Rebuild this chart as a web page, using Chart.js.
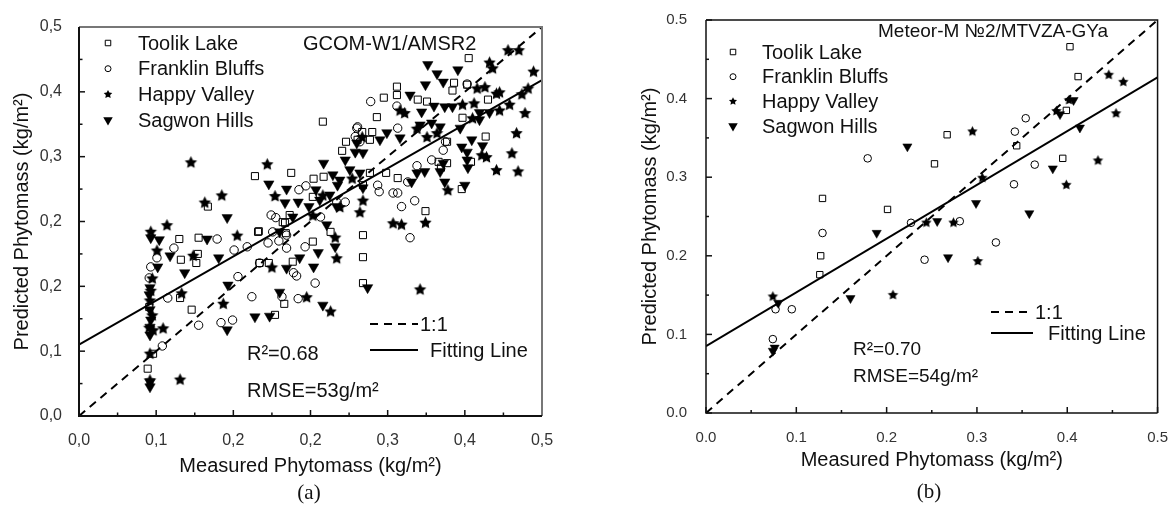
<!DOCTYPE html>
<html>
<head>
<meta charset="utf-8">
<title>Phytomass scatter</title>
<script src="https://cdn.jsdelivr.net/npm/chart.js@4.4.1/dist/chart.umd.min.js"></script>
<style>
  html, body { margin: 0; padding: 0; background: #fff; }
  #wrap { position: relative; width: 1176px; height: 508px; }
  canvas { position: absolute; top: 0; }
  #chartA { left: 0; }
  #chartB { left: 588px; }
</style>
</head>
<body>
<div id="wrap">
  <canvas id="chartA" width="588" height="508"></canvas>
  <canvas id="chartB" width="588" height="508"></canvas>
</div>
<script>
/* global Chart */
const FONT = '"Liberation Sans", Arial, "DejaVu Sans", sans-serif';
const SERIF = '"Liberation Serif", "Times New Roman", serif';

const seriesNames = ['Toolik Lake', 'Franklin Bluffs', 'Happy Valley', 'Sagwon Hills'];
const markerKinds = ['square', 'circle', 'star', 'tri'];

// (a) GCOM-W1/AMSR2 - axis spans 0..0.6, the original labels repeat "0,2"
const tickLabelsA = ['0,0', '0,1', '0,2', '0,2', '0,3', '0,4', '0,5'];
const toolikA = [
  [0.167,0.323],[0.130,0.273],[0.155,0.275],[0.154,0.250],[0.132,0.241],[0.152,0.236],[0.131,0.182],[0.146,0.164],[0.089,0.073],[0.228,0.370],
  [0.275,0.375],[0.233,0.285],[0.264,0.299],[0.316,0.454],[0.346,0.423],[0.361,0.426],[0.341,0.409],[0.304,0.366],[0.317,0.369],[0.303,0.338],
  [0.368,0.356],[0.273,0.310],[0.267,0.298],[0.326,0.284],[0.232,0.284],[0.268,0.282],[0.303,0.269],[0.277,0.238],[0.246,0.236],[0.234,0.236],
  [0.266,0.173],[0.368,0.279],[0.368,0.245],[0.368,0.205],[0.254,0.156],[0.505,0.552],[0.486,0.514],[0.484,0.502],[0.503,0.511],[0.412,0.508],
  [0.395,0.491],[0.386,0.461],[0.412,0.495],[0.439,0.488],[0.451,0.485],[0.367,0.438],[0.380,0.438],[0.377,0.426],[0.527,0.431],[0.508,0.392],
  [0.477,0.423],[0.466,0.392],[0.477,0.390],[0.469,0.383],[0.413,0.367],[0.496,0.350],[0.449,0.316],[0.377,0.375],[0.398,0.375],[0.530,0.488],
  [0.096,0.096],[0.091,0.168],[0.497,0.460]
];
const franklinA = [
  [0.179,0.273],[0.123,0.259],[0.101,0.244],[0.093,0.230],[0.201,0.256],[0.091,0.213],[0.115,0.182],[0.206,0.215],[0.155,0.140],[0.184,0.144],
  [0.199,0.148],[0.108,0.108],[0.249,0.310],[0.255,0.306],[0.218,0.261],[0.361,0.446],[0.364,0.423],[0.285,0.349],[0.294,0.355],[0.334,0.330],
  [0.313,0.307],[0.251,0.284],[0.269,0.279],[0.245,0.267],[0.259,0.270],[0.269,0.259],[0.293,0.261],[0.306,0.205],[0.278,0.221],[0.282,0.216],
  [0.224,0.184],[0.263,0.184],[0.284,0.181],[0.378,0.485],[0.412,0.478],[0.413,0.444],[0.360,0.444],[0.358,0.431],[0.475,0.423],[0.472,0.410],
  [0.457,0.395],[0.438,0.386],[0.426,0.361],[0.387,0.356],[0.389,0.346],[0.407,0.344],[0.413,0.344],[0.435,0.332],[0.418,0.323],[0.429,0.275],
  [0.345,0.330],[0.503,0.512],[0.234,0.236]
];
const happyA = [
  [0.185,0.341],[0.163,0.330],[0.114,0.295],[0.093,0.285],[0.205,0.279],[0.101,0.256],[0.095,0.213],[0.133,0.190],[0.095,0.156],[0.109,0.136],
  [0.187,0.174],[0.092,0.097],[0.131,0.057],[0.092,0.056],[0.145,0.392],[0.244,0.389],[0.254,0.340],[0.148,0.248],[0.303,0.310],[0.316,0.341],
  [0.367,0.431],[0.368,0.333],[0.364,0.315],[0.332,0.276],[0.334,0.244],[0.295,0.184],[0.326,0.162],[0.250,0.230],[0.091,0.137],[0.096,0.133],
  [0.092,0.179],[0.093,0.194],[0.556,0.565],[0.570,0.565],[0.532,0.546],[0.536,0.537],[0.589,0.532],[0.516,0.506],[0.526,0.508],[0.541,0.498],
  [0.545,0.500],[0.512,0.483],[0.497,0.481],[0.416,0.472],[0.422,0.468],[0.582,0.506],[0.574,0.497],[0.558,0.481],[0.545,0.472],[0.578,0.468],
  [0.510,0.460],[0.451,0.431],[0.464,0.437],[0.438,0.444],[0.567,0.437],[0.522,0.403],[0.528,0.400],[0.561,0.406],[0.541,0.380],[0.569,0.378],
  [0.478,0.349],[0.449,0.299],[0.407,0.298],[0.418,0.296],[0.354,0.367],[0.338,0.323],[0.442,0.196]
];
const sagwonA = [
  [0.192,0.306],[0.093,0.275],[0.104,0.272],[0.118,0.247],[0.102,0.230],[0.137,0.221],[0.181,0.244],[0.193,0.202],[0.092,0.198],[0.091,0.187],
  [0.092,0.164],[0.093,0.148],[0.092,0.137],[0.092,0.125],[0.192,0.133],[0.092,0.045],[0.092,0.052],[0.246,0.358],[0.267,0.329],[0.269,0.350],
  [0.284,0.330],[0.166,0.273],[0.277,0.307],[0.358,0.407],[0.368,0.406],[0.317,0.390],[0.329,0.372],[0.335,0.356],[0.307,0.349],[0.298,0.323],
  [0.334,0.323],[0.368,0.352],[0.321,0.295],[0.332,0.261],[0.260,0.284],[0.310,0.252],[0.286,0.244],[0.269,0.228],[0.304,0.230],[0.260,0.191],
  [0.316,0.171],[0.374,0.198],[0.228,0.153],[0.247,0.154],[0.491,0.534],[0.464,0.528],[0.449,0.511],[0.472,0.515],[0.452,0.542],[0.484,0.477],
  [0.429,0.495],[0.444,0.469],[0.460,0.478],[0.474,0.477],[0.519,0.468],[0.532,0.468],[0.519,0.457],[0.494,0.444],[0.468,0.446],[0.457,0.452],
  [0.442,0.449],[0.416,0.429],[0.399,0.437],[0.390,0.426],[0.360,0.421],[0.509,0.426],[0.523,0.417],[0.496,0.415],[0.503,0.407],[0.504,0.383],
  [0.503,0.395],[0.472,0.390],[0.468,0.377],[0.448,0.377],[0.438,0.375],[0.431,0.361],[0.500,0.356],[0.474,0.361],[0.364,0.375],[0.345,0.395],
  [0.351,0.380],[0.338,0.364],[0.325,0.341],[0.312,0.333]
];
const oneToOneA = [[0, 0], [0.6, 0.6]];
const fitA = [[0, 0.110], [0.6, 0.518]];

// (b) Meteor-M N2/MTVZA-GYa
const tickLabelsB = ['0.0', '0.1', '0.2', '0.3', '0.4', '0.5'];
const toolikB = [[0.403,0.466],[0.412,0.428],[0.399,0.385],[0.267,0.354],[0.344,0.340],[0.253,0.317],[0.395,0.324],[0.201,0.259],[0.129,0.273],[0.127,0.200],[0.126,0.176]];
const franklinB = [[0.179,0.324],[0.129,0.229],[0.354,0.375],[0.342,0.358],[0.364,0.316],[0.341,0.291],[0.321,0.217],[0.227,0.242],[0.281,0.244],[0.242,0.195],[0.077,0.132],[0.095,0.132],[0.074,0.094]];
const happyB = [[0.446,0.431],[0.462,0.422],[0.454,0.382],[0.402,0.399],[0.388,0.385],[0.295,0.359],[0.434,0.322],[0.399,0.291],[0.306,0.300],[0.244,0.243],[0.274,0.243],[0.301,0.194],[0.207,0.151],[0.074,0.149]];
const sagwonB = [[0.407,0.398],[0.392,0.380],[0.414,0.363],[0.223,0.339],[0.384,0.311],[0.299,0.267],[0.358,0.254],[0.189,0.229],[0.256,0.244],[0.268,0.198],[0.080,0.140],[0.160,0.146],[0.076,0.083],[0.074,0.079]];
const oneToOneB = [[0, 0], [0.5, 0.5]];
const fitB = [[0, 0.085], [0.5, 0.427]];

function markerPath(ctx, kind, x, y, s) {
  ctx.beginPath();
  if (kind === 'square') {
    ctx.rect(x - s / 2, y - s / 2, s, s);
  } else if (kind === 'circle') {
    ctx.arc(x, y, s / 2, 0, Math.PI * 2);
  } else if (kind === 'star') {
    for (let i = 0; i < 10; i++) {
      const r = i % 2 ? s * 0.25 : s / 2;
      const ang = -Math.PI / 2 + i * Math.PI / 5;
      const px = x + Math.cos(ang) * r, py = y + Math.sin(ang) * r;
      if (i === 0) ctx.moveTo(px, py); else ctx.lineTo(px, py);
    }
    ctx.closePath();
  } else {
    ctx.moveTo(x - s / 2, y - s * 0.29);
    ctx.lineTo(x + s / 2, y - s * 0.29);
    ctx.lineTo(x, y + s * 0.58);
    ctx.closePath();
  }
}

function drawMarker(ctx, kind, x, y, s) {
  markerPath(ctx, kind, x, y, s);
  if (kind === 'square' || kind === 'circle') {
    ctx.lineWidth = 1;
    ctx.strokeStyle = '#000';
    ctx.stroke();
  } else {
    ctx.fillStyle = '#000';
    ctx.fill();
  }
}

function starImage(s) {
  const c = document.createElement('canvas');
  c.width = c.height = Math.ceil(s) + 2;
  drawMarker(c.getContext('2d'), 'star', c.width / 2, c.height / 2 + s * 0.06, s);
  return c;
}

function pts(arr) {
  return arr.map(p => ({ x: p[0], y: p[1] }));
}

function makeDatasets(toolik, franklin, happy, sagwon, oneToOne, fit, m) {
  return [
    { label: seriesNames[0], data: pts(toolik), pointStyle: 'rect', pointRadius: m.sq,
      backgroundColor: 'rgba(0,0,0,0)', borderColor: '#000', pointBorderWidth: 1 },
    { label: seriesNames[1], data: pts(franklin), pointStyle: 'circle', pointRadius: m.ci,
      backgroundColor: 'rgba(0,0,0,0)', borderColor: '#000', pointBorderWidth: 1 },
    { label: seriesNames[2], data: pts(happy), pointStyle: starImage(m.st), pointRadius: m.st / 2,
      backgroundColor: '#000', borderColor: '#000' },
    { label: seriesNames[3], data: pts(sagwon), pointStyle: 'triangle', rotation: 180, pointRadius: m.tr,
      backgroundColor: '#000', borderColor: '#000', pointBorderWidth: 0.5 },
    { label: '1:1', data: pts(oneToOne), showLine: true, pointRadius: 0, borderColor: '#000',
      borderWidth: 2, borderDash: [8, 6], fill: false },
    { label: 'Fitting Line', data: pts(fit), showLine: true, pointRadius: 0, borderColor: '#000',
      borderWidth: 2, fill: false }
  ];
}

function axis(labels, max, o) {
  return {
    type: 'linear', min: 0, max: max,
    grid: { display: false },
    border: { display: false },
    ticks: {
      stepSize: 0.1, autoSkip: false, maxRotation: 0, padding: o.tickPad, color: '#333',
      font: { family: FONT, size: o.tickSize },
      callback: v => labels[Math.round(v * 10)]
    },
    title: { display: true, text: o.title, color: '#111', font: { family: FONT, size: 20 }, padding: o.titlePad },
    afterFit: o.fit
  };
}

// inward ticks and the plot frame
const frameTicks = {
  id: 'frameTicks',
  afterDatasetsDraw(chart, args, o) {
    const { ctx, chartArea: a } = chart;
    const xs = chart.scales.x, ys = chart.scales.y;
    ctx.save();
    ctx.strokeStyle = '#111';
    ctx.lineWidth = 1.5;
    const tickX = (v, len) => {
      const px = xs.getPixelForValue(v);
      ctx.beginPath(); ctx.moveTo(px, a.bottom); ctx.lineTo(px, a.bottom - len); ctx.stroke();
    };
    const tickY = (v, len) => {
      const py = ys.getPixelForValue(v);
      ctx.beginPath(); ctx.moveTo(a.left, py); ctx.lineTo(a.left + len, py); ctx.stroke();
    };
    xs.ticks.forEach((t, i) => {
      tickX(t.value, o.major);
      if (i < xs.ticks.length - 1) tickX((t.value + xs.ticks[i + 1].value) / 2, o.minor);
    });
    ys.ticks.forEach((t, i) => {
      tickY(t.value, o.major);
      if (i < ys.ticks.length - 1) tickY((t.value + ys.ticks[i + 1].value) / 2, o.minor);
    });
    ctx.lineWidth = o.frame;
    ctx.strokeStyle = o.farColor;
    ctx.beginPath();
    ctx.moveTo(a.left, a.top); ctx.lineTo(a.right, a.top); ctx.lineTo(a.right, a.bottom);
    ctx.stroke();
    ctx.strokeStyle = '#111';
    ctx.beginPath();
    ctx.moveTo(a.left, a.top); ctx.lineTo(a.left, a.bottom); ctx.lineTo(a.right, a.bottom);
    ctx.stroke();
    ctx.restore();
  }
};

// texts, symbol legend and line legend
const annotations = {
  id: 'annotations',
  afterDraw(chart, args, o) {
    const ctx = chart.ctx;
    ctx.save();
    o.texts.forEach(t => {
      ctx.font = t.font;
      ctx.fillStyle = '#111';
      ctx.textAlign = t.align || 'left';
      ctx.textBaseline = t.baseline || 'alphabetic';
      ctx.fillText(t.text, t.x, t.y);
    });
    const lg = o.legend;
    ctx.font = '20px ' + FONT;
    ctx.textAlign = 'left';
    ctx.textBaseline = 'middle';
    chart.data.datasets.slice(0, 4).forEach((ds, i) => {
      const y = lg.y0 + i * lg.dy;
      drawMarker(ctx, markerKinds[i], lg.symX, y, lg.sizes[i]);
      ctx.fillStyle = '#111';
      ctx.fillText(ds.label, lg.textX, y + 1);
    });
    const ll = o.lines;
    chart.data.datasets.slice(4).forEach((ds, i) => {
      const y = ll.rows[i];
      ctx.strokeStyle = '#000';
      ctx.lineWidth = 2;
      ctx.setLineDash(ds.borderDash || []);
      ctx.beginPath(); ctx.moveTo(ll.x1, y); ctx.lineTo(ll.x2, y); ctx.stroke();
      ctx.setLineDash([]);
      ctx.fillStyle = '#111';
      ctx.fillText(ds.label, ll.textX[i], y + 1);
    });
    ctx.restore();
  }
};

function makeChart(id, datasets, labels, max, lay) {
  return new Chart(document.getElementById(id), {
    type: 'scatter',
    data: { datasets: datasets },
    options: {
      responsive: false,
      animation: false,
      devicePixelRatio: 1,
      events: [],
      layout: { autoPadding: false, padding: lay.padding },
      scales: {
        x: axis(labels, max, { tickPad: lay.xTickPad, tickSize: lay.tickSize, title: 'Measured Phytomass (kg/m²)',
          titlePad: { top: 0, bottom: lay.xTitlePad }, fit: s => { s.height = lay.xHeight; } }),
        y: axis(labels, max, { tickPad: lay.yTickPad, tickSize: lay.tickSize, title: 'Predicted Phytomass (kg/m²)',
          titlePad: { top: 10, bottom: 0 }, fit: s => { s.width = lay.yWidth; } })
      },
      plugins: {
        legend: { display: false },
        tooltip: { enabled: false },
        frameTicks: lay.frame,
        annotations: lay.notes
      }
    },
    plugins: [frameTicks, annotations]
  });
}

makeChart('chartA',
  makeDatasets(toolikA, franklinA, happyA, sagwonA, oneToOneA, fitA, { sq: 5, ci: 4.2, st: 13, tr: 6 }),
  tickLabelsA, 0.6,
  {
    padding: { left: 0, right: 46, top: 27, bottom: 0 },
    xHeight: 92, yWidth: 79, xTickPad: 7, yTickPad: 9, tickSize: 16, xTitlePad: 30,
    frame: { major: 6, minor: 3.5, frame: 2, farColor: '#777' },
    notes: {
      texts: [
        { text: 'GCOM-W1/AMSR2', x: 303, y: 50, font: '20px ' + FONT },
        { text: 'R²=0.68', x: 247, y: 360, font: '20px ' + FONT },
        { text: 'RMSE=53g/m²', x: 247, y: 397, font: '20px ' + FONT },
        { text: '(a)', x: 309, y: 493, font: '21px ' + SERIF, align: 'center', baseline: 'middle' }
      ],
      legend: { symX: 108, textX: 138, y0: 43, dy: 25.7, sizes: [5.5, 6, 9, 9.5] },
      lines: { x1: 370, x2: 418, rows: [324, 350], textX: [420, 430] }
    }
  });

makeChart('chartB',
  makeDatasets(toolikB, franklinB, happyB, sagwonB, oneToOneB, fitB, { sq: 4.5, ci: 3.8, st: 11, tr: 5.3 }),
  tickLabelsB, 0.5,
  {
    padding: { left: 40, right: 18, top: 16, bottom: 0 },
    xHeight: 95, yWidth: 78, xTickPad: 8, yTickPad: 11, tickSize: 15, xTitlePad: 36,
    frame: { major: 6, minor: 3, frame: 1.5, farColor: '#111' },
    notes: {
      texts: [
        { text: 'Meteor-M №2/MTVZA-GYa', x: 290, y: 37, font: '19px ' + FONT },
        { text: 'R²=0.70', x: 265, y: 355, font: '19px ' + FONT },
        { text: 'RMSE=54g/m²', x: 265, y: 382, font: '19px ' + FONT },
        { text: '(b)', x: 341, y: 492, font: '21px ' + SERIF, align: 'center', baseline: 'middle' }
      ],
      legend: { symX: 145, textX: 174, y0: 52, dy: 24.7, sizes: [5.5, 6, 8.5, 9.5] },
      lines: { x1: 403, x2: 445, rows: [312, 333], textX: [447, 460] }
    }
  });
</script>
</body>
</html>
